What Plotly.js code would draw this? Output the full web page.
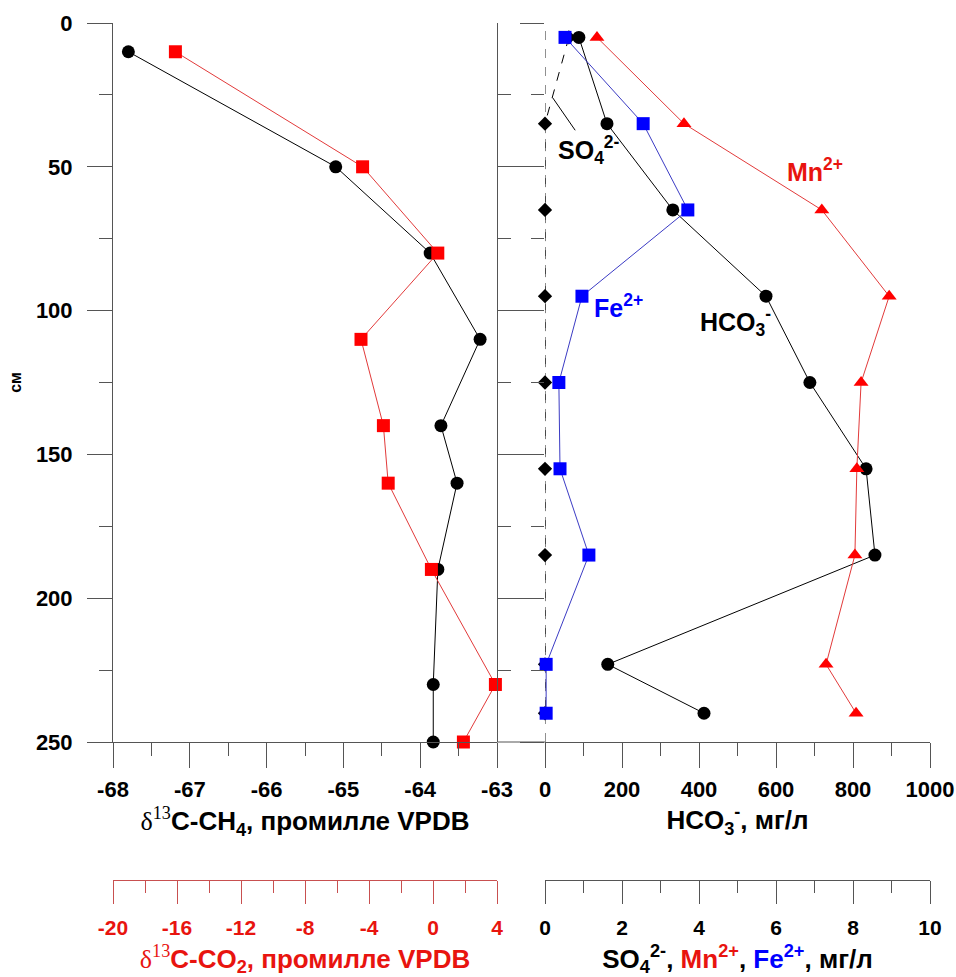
<!DOCTYPE html>
<html><head><meta charset="utf-8">
<script src="https://cdn.plot.ly/plotly-3.0.1.min.js"></script>
<style>html,body{margin:0;padding:0;background:#fff}</style>
</head><body><div id="chart" style="width:956px;height:977px"></div>
<script>
// depth (cm) for isotope samples
const depthIso = [10, 50, 80, 110, 140, 160, 190, 230, 250];
// δ13C-CH4, ‰ VPDB
const d13CH4 = [-67.80, -65.10, -63.87, -63.22, -63.73, -63.52, -63.77, -63.83, -63.83];
// δ13C-CO2, ‰ VPDB
const d13CO2 = [-16.1, -4.4, 0.3, -4.5, -3.1, -2.8, -0.1, 3.9, 1.9];
// depth (cm) for pore-water chemistry
const depthChem = [5, 35, 65, 95, 125, 155, 185, 223, 240];
const hco3 = [88, 161, 332, 574, 688, 834, 857, 163, 413];   // mg/L
const mn   = [1.35, 3.61, 7.19, 8.94, 8.21, 8.10, 8.05, 7.30, 8.08]; // mg/L
const fe   = [0.52, 2.55, 3.71, 0.96, 0.36, 0.39, 1.14, 0.03, 0.03]; // mg/L
const so4  = [0.62, 0, 0, 0, 0, 0, 0, 0, 0]; // mg/L

// tick labels
const depthTicks = [0, 50, 100, 150, 200, 250];
const ch4Ticks = [-68, -67, -66, -65, -64, -63];
const ch4TickText = ['-68', '-67', '-66', '-65', '-64', '-63'];
const co2Ticks = [-20, -16, -12, -8, -4, 0, 4];
const co2TickText = ['-20', '-16', '-12', '-8', '-4', '0', '4'];
const hco3Ticks = [0, 200, 400, 600, 800, 1000];
const ionTicks = [0, 2, 4, 6, 8, 10];

const W = 956, H = 977;
const fx = p => p / W, fy = p => 1 - p / H;
const AX = '#555';
const RED = '#e8140f';
const FONT = 'Liberation Sans, Arial, sans-serif';
const tickFont = {family: FONT, size: 22, color: '#000', weight: 'bold'};
const tickFont2 = {family: FONT, size: 21, color: '#000', weight: 'bold'};
const titleFont = {family: FONT, size: 26, color: '#000', weight: 'bold'};
const annFont = (c) => ({family: FONT, size: 25, color: c, weight: 'bold'});
const yDom = [fy(742), fy(23)];
const delta = '<span style="font-family:\'Liberation Serif\',serif;font-weight:normal">δ<sup>13</sup></span>';

const traces = [
  {x: d13CH4, y: depthIso, xaxis: 'x', yaxis: 'y', mode: 'lines+markers',
   line: {color: '#000', width: 1}, marker: {symbol: 'circle', size: 13, color: '#000'}, cliponaxis: false},
  {x: d13CO2, y: depthIso, xaxis: 'x3', yaxis: 'y', mode: 'lines+markers',
   line: {color: '#e23a3a', width: 1}, marker: {symbol: 'square', size: 13, color: '#ff0000'}, cliponaxis: false},
  {x: so4, y: depthChem, xaxis: 'x4', yaxis: 'y3', mode: 'lines+markers',
   line: {color: '#000', width: 1, dash: 'dash'}, marker: {symbol: 'diamond', size: 11, color: '#000'}, cliponaxis: false},
  {x: hco3, y: depthChem, xaxis: 'x2', yaxis: 'y2', mode: 'lines+markers',
   line: {color: '#000', width: 1}, marker: {symbol: 'circle', size: 13, color: '#000'}, cliponaxis: false},
  {x: mn, y: depthChem, xaxis: 'x4', yaxis: 'y3', mode: 'lines+markers',
   line: {color: '#e23a3a', width: 1}, marker: {symbol: 'triangle-up', size: 13, color: '#ff0000'}, cliponaxis: false},
  {x: fe, y: depthChem, xaxis: 'x4', yaxis: 'y3', mode: 'lines+markers',
   line: {color: '#3b3bc4', width: 1}, marker: {symbol: 'square', size: 13, color: '#0000ff'}, cliponaxis: false}
];

const baseX = {showgrid: false, zeroline: false, showline: true, linecolor: AX, linewidth: 1,
  ticks: 'outside', ticklen: 25, tickcolor: AX, tickwidth: 1, tickfont: tickFont, tickmode: 'array'};

const layout = {
  width: W, height: H, margin: {l: 0, r: 0, t: 0, b: 0},
  paper_bgcolor: '#fff', plot_bgcolor: 'rgba(0,0,0,0)', showlegend: false,
  xaxis: Object.assign({}, baseX, {
    domain: [fx(113), fx(497)], range: [-68, -63], anchor: 'y',
    tickvals: ch4Ticks, ticktext: ch4TickText, ticklabelstandoff: 3,
    minor: {tickmode: 'linear', tick0: -68, dtick: 0.5, ticks: 'outside', ticklen: 13, tickcolor: AX},
    title: {text: delta + 'C-CH<sub>4</sub>, промилле VPDB', font: titleFont, standoff: 10}
  }),
  xaxis3: Object.assign({}, baseX, {
    overlaying: 'x', anchor: 'free', position: fy(880), side: 'bottom', range: [-20, 4],
    linecolor: '#c85050', tickcolor: '#c85050', ticklen: 23, ticklabelstandoff: 6,
    tickvals: co2Ticks, ticktext: co2TickText, tickfont: Object.assign({}, tickFont2, {color: RED}),
    minor: {tickmode: 'linear', tick0: -20, dtick: 2, ticks: 'outside', ticklen: 12, tickcolor: '#c85050'},
    title: {text: delta + 'C-CO<sub>2</sub>, промилле VPDB', font: Object.assign({}, titleFont, {color: RED}), standoff: 18}
  }),
  xaxis2: Object.assign({}, baseX, {
    domain: [fx(545), fx(930)], range: [0, 1000], anchor: 'y2',
    tickvals: hco3Ticks, ticklabelstandoff: 3,
    minor: {tickmode: 'linear', tick0: 0, dtick: 100, ticks: 'outside', ticklen: 13, tickcolor: AX},
    title: {text: 'HCO<sub>3</sub><sup>-</sup>, мг/л', font: titleFont, standoff: 6}
  }),
  xaxis4: Object.assign({}, baseX, {
    overlaying: 'x2', anchor: 'free', position: fy(880), side: 'bottom', range: [0, 10],
    ticklen: 23, tickvals: ionTicks, ticklabelstandoff: 6, tickfont: tickFont2,
    minor: {tickmode: 'linear', tick0: 0, dtick: 1, ticks: 'outside', ticklen: 12, tickcolor: AX},
    title: {text: 'SO<sub>4</sub><sup>2-</sup>, <span style="fill:' + RED + '">Mn<sup>2+</sup></span>, <span style="fill:#0000ff">Fe<sup>2+</sup></span>, мг/л', font: titleFont, standoff: 17}
  }),
  yaxis: {
    domain: yDom, range: [250, 0], anchor: 'x', side: 'left',
    showgrid: false, zeroline: false, showline: true, linecolor: AX, linewidth: 1,
    ticks: 'outside', ticklen: 25, tickcolor: AX, tickmode: 'array', tickvals: depthTicks, tickfont: tickFont,
    ticklabelstandoff: 10,
    minor: {tickmode: 'linear', tick0: 0, dtick: 25, ticks: 'outside', ticklen: 13, tickcolor: AX},
    title: {text: 'см', font: {family: FONT, size: 16, color: '#000', weight: 'bold'}, standoff: 10}
  },
  yaxis2: {
    domain: yDom, range: [250, 0], anchor: 'free', position: fx(497), side: 'left',
    showgrid: false, zeroline: false, showline: true, linecolor: AX, linewidth: 1,
    ticks: 'inside', ticklen: 24, tickcolor: AX, tickmode: 'array', tickvals: depthTicks, showticklabels: false,
    minor: {tickmode: 'linear', tick0: 0, dtick: 25, ticks: 'inside', ticklen: 13, tickcolor: AX}
  },
  yaxis3: {
    overlaying: 'y2', range: [250, 0], anchor: 'x2', side: 'left',
    showgrid: false, zeroline: false, showline: false,
    ticks: 'outside', ticklen: 24, tickcolor: AX, tickmode: 'array', tickvals: depthTicks, showticklabels: false,
    minor: {tickmode: 'linear', tick0: 0, dtick: 25, ticks: 'outside', ticklen: 13, tickcolor: AX}
  },
  shapes: [
    {type: 'line', xref: 'x2', x0: 0, x1: 0, yref: 'y2 domain', y0: 0, y1: 1,
     line: {color: '#222', width: 1, dash: 'dash'}, layer: 'below'},
    {type: 'line', xref: 'paper', x0: fx(497), x1: fx(545), yref: 'y2 domain', y0: 0, y1: 0,
     line: {color: AX, width: 1}}
  ],
  annotations: [
    {xref: 'paper', yref: 'paper', x: fx(815), y: fy(170), xanchor: 'center', yanchor: 'middle',
     text: 'Mn<sup>2+</sup>', showarrow: false, font: annFont(RED)},
    {xref: 'paper', yref: 'paper', x: fx(618), y: fy(306), xanchor: 'center', yanchor: 'middle',
     text: 'Fe<sup>2+</sup>', showarrow: false, font: annFont('#0000ff')},
    {xref: 'paper', yref: 'paper', x: fx(735), y: fy(322), xanchor: 'center', yanchor: 'middle',
     text: 'HCO<sub>3</sub><sup>-</sup>', showarrow: false, font: annFont('#000')},
    {xref: 'x4', yref: 'y3', x: 0.2, y: 26, ax: 36, ay: 52, text: 'SO<sub>4</sub><sup>2-</sup>',
     showarrow: true, arrowhead: 0, arrowwidth: 1, arrowcolor: '#000', standoff: 0,
     font: annFont('#000')}
  ]
};

Plotly.newPlot('chart', traces, layout, {staticPlot: true, displayModeBar: false});
</script>
</body></html>
